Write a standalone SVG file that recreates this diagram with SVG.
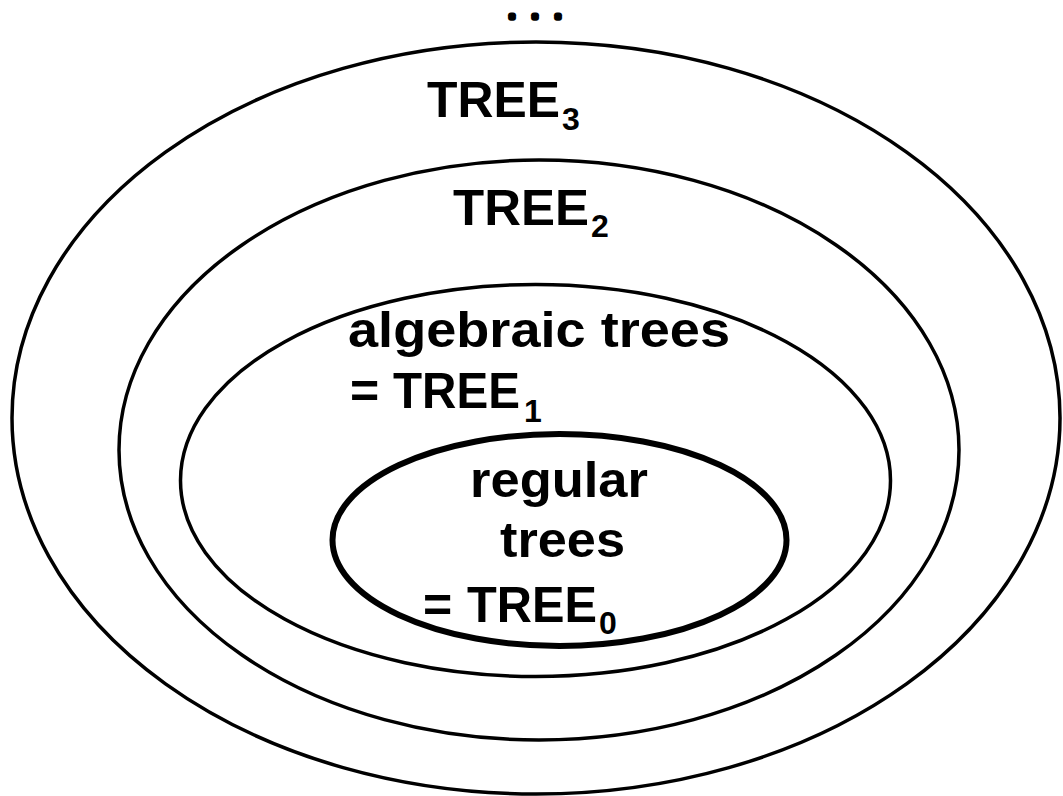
<svg xmlns="http://www.w3.org/2000/svg" width="1063" height="796" viewBox="0 0 1063 796">
<style>
.ring{fill:none;stroke:#000;stroke-width:3.5}
.core{fill:none;stroke:#000;stroke-width:6}
.t{font-family:"Liberation Sans",Arial,sans-serif;font-weight:bold;font-size:50px;fill:#000}
.s{font-size:32px}
.d{font-family:"Liberation Sans",Arial,sans-serif;font-weight:bold;font-size:18px;fill:#000;stroke:#000;stroke-width:5.5;stroke-linejoin:round}
</style>
<rect width="1063" height="796" fill="#fff"/>
<g id="tree3">
<ellipse class="ring" cx="536" cy="418" rx="524" ry="376"/>
<text class="t"><tspan x="427" y="117" textLength="133" lengthAdjust="spacingAndGlyphs">TREE</tspan><tspan class="s" x="562" y="130">3</tspan></text>
</g>
<g id="tree2">
<ellipse class="ring" cx="539" cy="450" rx="420" ry="290"/>
<text class="t"><tspan x="453" y="225" textLength="136" lengthAdjust="spacingAndGlyphs">TREE</tspan><tspan class="s" x="591" y="237">2</tspan></text>
</g>
<g id="tree1">
<ellipse class="ring" cx="535.5" cy="480.5" rx="355" ry="196"/>
<text class="t" x="348" y="347" textLength="382" lengthAdjust="spacingAndGlyphs">algebraic trees</text>
<text class="t"><tspan x="350" y="408">=</tspan><tspan x="393" y="408" textLength="127" lengthAdjust="spacingAndGlyphs">TREE</tspan><tspan class="s" x="524" y="422">1</tspan></text>
</g>
<g id="tree0">
<ellipse class="core" cx="559.5" cy="540" rx="227" ry="106"/>
<text class="t" x="470" y="497" textLength="178" lengthAdjust="spacingAndGlyphs">regular</text>
<text class="t" x="500" y="557" textLength="125" lengthAdjust="spacingAndGlyphs">trees</text>
<text class="t"><tspan x="423" y="622">=</tspan><tspan x="467" y="622" textLength="130" lengthAdjust="spacingAndGlyphs">TREE</tspan><tspan class="s" x="599" y="634">0</tspan></text>
</g>
<g id="dots">
<text class="d" x="509.5 532.5 555.5" y="18">...</text>
</g>
<g id="connectors"/>
</svg>
